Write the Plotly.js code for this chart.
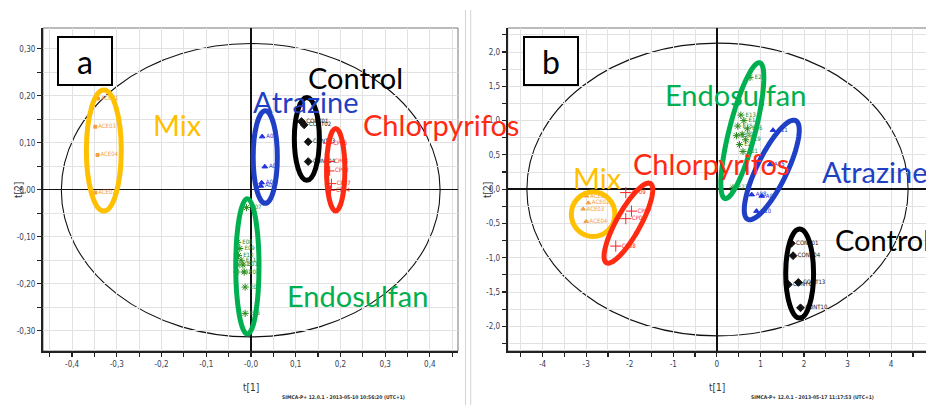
<!DOCTYPE html>
<html><head><meta charset="utf-8">
<script src="https://cdn.plot.ly/plotly-3.0.1.min.js"></script>
<style>html,body{margin:0;padding:0;background:#fff}#chart{width:926px;height:405px}</style>
</head><body><div id="chart"></div>
<script>
// ---------- Panel a data (t[1], t[2]) ----------
const aMixX = [-0.342, -0.348, -0.343, -0.348];
const aMixY = [0.194, 0.134, 0.074, -0.006];
const aMixLab = ["ACE01", "ACE03", "ACE04", "ACE02"];
const aAtrX = [0.025, 0.031, 0.024, 0.022];
const aAtrY = [0.113, 0.049, 0.015, 0.008];
const aAtrLab = ["A04", "A01", "A02", "A03"];
const aConX = [0.113, 0.119, 0.128, 0.128];
const aConY = [0.145, 0.138, 0.102, 0.060];
const aConLab = ["CONT01", "CONT02", "CONT03", "CONT04"];
const aChlX = [0.172, 0.174, 0.176, 0.180, 0.178];
const aChlY = [0.099, 0.060, 0.040, 0.013, -0.001];
const aChlLab = ["CP05", "CP08", "CP02", "CP07", "CP04"];
const aEndX = [-0.010, -0.030, -0.025, -0.028, -0.022, -0.030, -0.018, -0.032, -0.015, -0.013, -0.013];
const aEndY = [-0.038, -0.112, -0.125, -0.140, -0.150, -0.160, -0.160, -0.175, -0.175, -0.207, -0.263];
const aEndLab = ["E07", "E08", "E09", "E10", "E11", "E12", "E01", "E02", "E03", "E04", "E05"];
// group ellipses panel a: [x0, x1, y0, y1]
const aMixEll = [-0.368, -0.290, -0.045, 0.212];
const aAtrEll = [0.005, 0.059, -0.029, 0.168];
const aConEll = [0.097, 0.153, 0.020, 0.196];
const aChlEll = [0.169, 0.210, -0.045, 0.130];
const aEndEll = [-0.034, 0.018, -0.307, -0.019];
const aHotEll = [-0.424, 0.423, -0.313, 0.311];
const aXTicks = [-0.4, -0.3, -0.2, -0.1, 0, 0.1, 0.2, 0.3, 0.4];
const aXTickText = ["-0,4", "-0,3", "-0,2", "-0,1", "-0,0", "0,1", "0,2", "0,3", "0,4"];
const aYTicks = [0.3, 0.2, 0.1, 0, -0.1, -0.2, -0.3];
const aYTickText = ["0,30", "0,20", "0,10", "-0,00", "-0,10", "-0,20", "-0,30"];

// ---------- Panel b data ----------
const bMixX = [-2.99, -2.95, -3.07, -3.00];
const bMixY = [-0.10, -0.20, -0.29, -0.47];
const bMixLab = ["ACE01", "ACE02", "ACE03", "ACE04"];
const bChlX = [-2.09, -1.96, -2.09, -2.32];
const bChlY = [-0.05, -0.32, -0.43, -0.83];
const bChlLab = ["CP09", "CP07", "CP06", "CP08"];
const bEndX = [0.76, 0.55, 0.62, 0.48, 0.70, 0.58, 0.45, 0.66, 0.52, 0.60, 0.37];
const bEndY = [1.63, 1.08, 1.00, 0.92, 0.88, 0.80, 0.78, 0.72, 0.65, 0.55, 0.02];
const bEndLab = ["E22", "E13", "E14", "E15", "E16", "E17", "E18", "E19", "E20", "E21", "E23"];
const bAtrX = [1.29, 1.22, 0.80, 1.03, 0.91];
const bAtrY = [0.86, 0.36, -0.08, -0.10, -0.32];
const bAtrLab = ["A11", "A15", "A08", "A09", "A10"];
const bConX = [1.71, 1.75, 1.64, 1.87, 1.92];
const bConY = [-0.79, -0.97, -1.39, -1.36, -1.73];
const bConLab = ["CONT01", "CONT04", "CONT02", "CONT13", "CONT10"];
// tilted ellipses panel b: [cx, cy, majorX, majorY, minorX, minorY]
const bChlEll = [-2.03, -0.495, 0.505, 0.578, 0.24, -0.085];
const bEndEll = [0.585, 0.854, 0.40, 0.99, 0.289, -0.047];
const bAtrEll = [1.26, 0.28, 0.55, 0.72, 0.31, -0.095];
const bMixEll = [-3.34, -2.34, -0.69, -0.04];
const bConEll = [1.58, 2.22, -1.88, -0.58];
const bHotEll = [-4.36, 4.39, -2.14, 2.13];
const bXTicks = [-4, -3, -2, -1, 0, 1, 2, 3, 4];
const bXTickText = ["-4", "-3", "-2", "-1", "0", "1", "2", "3", "4"];
const bYTicks = [2, 1.5, 1, 0.5, 0, -0.5, -1, -1.5, -2];
const bYTickText = ["2,0", "1,5", "1,0", "0,5", "0,0", "-0,5", "-1,0", "-1,5", "-2,0"];

const groupNames = ["Mix", "Atrazine", "Control", "Chlorpyrifos", "Endosulfan"];

// ---------- styles ----------
const C = {mix: "#FFC000", atr: "#1F3FC4", con: "#000000", chl: "#FF2A12", end: "#00B050"};
const PT = {mix: "#F5A040", atr: "#2233E0", con: "#111111", chl: "#FF2020", end: "#2A8A1A"};
const narrow = "DejaVu Sans Condensed, Liberation Sans Narrow, Arial Narrow, sans-serif";
const labFont = {family: narrow, size: 6};
const bigFont = (c) => ({family: "Lato, Open Sans, sans-serif", size: 29, color: c});

function pts(x, y, lab, color, symbol, size, xa, ya) {
  return {x: x, y: y, text: lab, type: "scatter", mode: "markers+text",
    textposition: "middle right", cliponaxis: false,
    textfont: Object.assign({color: color}, labFont),
    marker: {color: color, symbol: symbol, size: size, line: {color: color, width: 1}},
    xaxis: xa, yaxis: ya, showlegend: false, hoverinfo: "skip"};
}
const traces = [
  pts(aMixX, aMixY, aMixLab, PT.mix, "square", 3, "x", "y"),
  pts(aAtrX, aAtrY, aAtrLab, PT.atr, "triangle-up", 5, "x", "y"),
  pts(aConX, aConY, aConLab, PT.con, "diamond", 6, "x", "y"),
  pts(aChlX, aChlY, aChlLab, PT.chl, "cross-thin", 7, "x", "y"),
  pts(aEndX, aEndY, aEndLab, PT.end, "asterisk", 6, "x", "y"),
  pts(bMixX, bMixY, bMixLab, PT.mix, "triangle-up", 4, "x2", "y2"),
  pts(bChlX, bChlY, bChlLab, PT.chl, "cross-thin", 8, "x2", "y2"),
  pts(bEndX, bEndY, bEndLab, PT.end, "asterisk", 6, "x2", "y2"),
  pts(bAtrX, bAtrY, bAtrLab, PT.atr, "triangle-up", 5, "x2", "y2"),
  pts(bConX, bConY, bConLab, PT.con, "diamond", 6, "x2", "y2")
];

function boxEll(b, color, w, xr, yr, layer) {
  return {type: "circle", xref: xr, yref: yr, x0: b[0], x1: b[1], y0: b[2], y1: b[3],
    line: {color: color, width: w}, layer: layer || "above"};
}
function tiltEll(e, color) {
  const n = 72; let d = "";
  for (let i = 0; i <= n; i++) {
    const t = 2 * Math.PI * i / n;
    const x = e[0] + e[2] * Math.cos(t) + e[4] * Math.sin(t);
    const y = e[1] + e[3] * Math.cos(t) + e[5] * Math.sin(t);
    d += (i === 0 ? "M" : "L") + x.toFixed(4) + "," + y.toFixed(4);
  }
  return {type: "path", xref: "x2", yref: "y2", path: d + "Z", line: {color: color, width: 5}, layer: "above"};
}
const frame = (xr, yr) => ({type: "rect", xref: "paper", yref: "paper", x0: xr[0], x1: xr[1], y0: yr[0], y1: yr[1],
  line: {color: "#777", width: 1}, layer: "below"});

const yd = [1 - 351 / 405, 1 - 28 / 405];
const xdA = [43 / 926, 458 / 926];
const xdB = [507.7 / 926, 1];

const shapes = [
  frame(xdA, yd), frame([xdB[0], 1.01], yd),
  boxEll(aHotEll, "#111", 1.1, "x", "y", "below"),
  boxEll(bHotEll, "#111", 1.1, "x2", "y2", "below"),
  boxEll(aMixEll, C.mix, 5, "x", "y"),
  boxEll(aAtrEll, C.atr, 5, "x", "y"),
  boxEll(aConEll, C.con, 5, "x", "y"),
  boxEll(aChlEll, C.chl, 5, "x", "y"),
  boxEll(aEndEll, C.end, 5, "x", "y"),
  boxEll(bMixEll, C.mix, 5, "x2", "y2"),
  boxEll(bConEll, C.con, 5, "x2", "y2"),
  tiltEll(bChlEll, C.chl), tiltEll(bEndEll, C.end), tiltEll(bAtrEll, C.atr),
  {type: "line", xref: "paper", yref: "paper", x0: 465.5 / 926, x1: 465.5 / 926, y0: 0, y1: 1 - 10 / 405, line: {color: "#d4d4d4", width: 1}},
  {type: "line", xref: "paper", yref: "paper", x0: 470.7 / 926, x1: 470.7 / 926, y0: 0, y1: 1 - 10 / 405, line: {color: "#d4d4d4", width: 1}}
];

function big(text, x, y, xr, yr, color) {
  return {text: text, x: x, y: y, xref: xr, yref: yr, xanchor: "left", yanchor: "middle",
    showarrow: false, font: bigFont(color)};
}
function letterBox(t, cx, cy) {
  return {text: t, x: cx / 926, y: 1 - cy / 405, xref: "paper", yref: "paper", xanchor: "center", yanchor: "middle",
    showarrow: false, width: 52, height: 46, bgcolor: "#fff", bordercolor: "#000", borderwidth: 2, borderpad: 0,
    font: {family: "Lato, Open Sans, sans-serif", size: 32, color: "#000"}};
}
const small = (t, x, y, s, c, ang) => ({text: t, x: x / 926, y: 1 - y / 405, xref: "paper", yref: "paper",
  xanchor: "center", yanchor: "middle", showarrow: false, textangle: ang || 0,
  font: {family: narrow, size: s, color: c}});

const annotations = [
  big(groupNames[0], -0.224, 0.138, "x", "y", C.mix),
  big(groupNames[1], -0.001, 0.187, "x", "y", C.atr),
  big(groupNames[2], 0.122, 0.238, "x", "y", C.con),
  big(groupNames[3], 0.245, 0.138, "x", "y", C.chl),
  big(groupNames[4], 0.076, -0.224, "x", "y", C.end),
  big(groupNames[4], -1.24, 1.377, "x2", "y2", C.end),
  big(groupNames[3], -1.97, 0.374, "x2", "y2", C.chl),
  big(groupNames[0], -3.34, 0.17, "x2", "y2", C.mix),
  big(groupNames[1], 2.36, 0.26, "x2", "y2", C.atr),
  big(groupNames[2], 2.67, -0.73, "x2", "y2", C.con),
  letterBox("a", 85, 60.7), letterBox("b", 551, 60.9),
  small("t[1]", 251, 387, 10, "#333"), small("t[1]", 717, 387, 10, "#333"),
  small("t[2]", 18, 190, 10, "#333", -90), small("t[2]", 487, 190, 10, "#333", -90),
  small("<b>SIMCA-P+ 12.0.1 - 2013-05-10 10:56:20 (UTC+1)</b>", 343, 397, 5, "#333"),
  small("<b>SIMCA-P+ 12.0.1 - 2013-05-17 11:17:53 (UTC+1)</b>", 812, 397, 5, "#333")
];

const tickFont = {family: narrow, size: 8, color: "#34405a"};
function ax(domain, range, vals, txt, minorD, anchor) {
  return {domain: domain, range: range, anchor: anchor, tickmode: "array", tickvals: vals, ticktext: txt,
    ticks: "outside", ticklen: 4, tickwidth: 1.2, tickcolor: "#222", tickfont: tickFont,
    showgrid: true, gridcolor: "#e2e2e2", gridwidth: 1,
    minor: {dtick: minorD, tick0: 0, showgrid: true, gridcolor: "#e2e2e2", ticks: "outside", ticklen: 4, tickcolor: "#222"},
    zeroline: true, zerolinecolor: "#111", zerolinewidth: 1.5,
    showline: true, linecolor: "#222", linewidth: 2, fixedrange: true};
}
const layout = {
  width: 926, height: 405, margin: {l: 0, r: 0, t: 0, b: 0},
  paper_bgcolor: "#fff", plot_bgcolor: "rgba(0,0,0,0)", showlegend: false,
  xaxis: ax(xdA, [-0.465, 0.463], aXTicks, aXTickText, 0.05, "y"),
  yaxis: ax(yd, [-0.343, 0.344], aYTicks, aYTickText, 0.05, "x"),
  xaxis2: ax(xdB, [-4.8, 4.8], bXTicks, bXTickText, 0.5, "y2"),
  yaxis2: ax(yd, [-2.36, 2.35], bYTicks, bYTickText, 0.25, "x2"),
  shapes: shapes, annotations: annotations
};
Plotly.newPlot("chart", traces, layout, {displayModeBar: false, staticPlot: true});
</script></body></html>
